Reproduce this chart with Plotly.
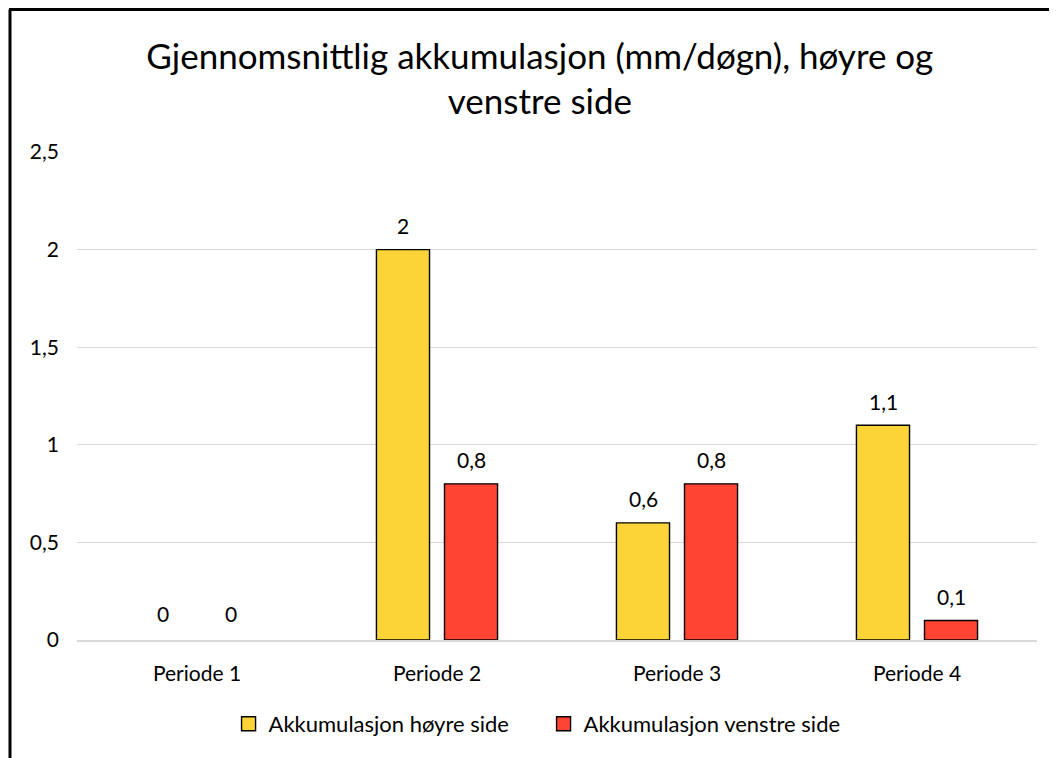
import plotly.graph_objects as go

categories = ["Periode 1", "Periode 2", "Periode 3", "Periode 4"]
hoyre = [0, 2, 0.6, 1.1]
venstre = [0, 0.8, 0.8, 0.1]
series_names = ["Akkumulasjon høyre side", "Akkumulasjon venstre side"]
tick_vals = [0, 0.5, 1, 1.5, 2, 2.5]
tick_text = ["0", "0,5", "1", "1,5", "2", "2,5"]

def fmt(v):
    return ("%g" % v).replace(".", ",")

font = "Lato, Open Sans, sans-serif"
colors = ["#FDD438", "#FF4433"]
fig = go.Figure()
annotations = []
for vals, name, col, shift in [(hoyre, series_names[0], colors[0], -34),
                                (venstre, series_names[1], colors[1], 34)]:
    fig.add_bar(x=categories, y=vals, name=name, showlegend=False,
                marker=dict(color=col,
                            line=dict(color="#000000",
                                      width=[1.4 if v > 0 else 0 for v in vals])))
    for c, v in zip(categories, vals):
        annotations.append(dict(x=c, y=v, xref="x", yref="y", text=fmt(v),
                                showarrow=False, xshift=shift,
                                yshift=24 if v > 0 else 27,
                                yanchor="middle", xanchor="center",
                                font=dict(size=21, family=font, color="#000000")))

# legend entries (square swatches with black outline)
for name, col in zip(series_names, colors):
    fig.add_scatter(x=[None], y=[None], mode="markers", name=name,
                    marker=dict(symbol="square", size=14, color=col,
                                line=dict(color="#000000", width=1.4)))

fig.update_layout(
    width=1049, height=750,
    margin=dict(l=69, r=20, t=144, b=118),
    paper_bgcolor="white", plot_bgcolor="white",
    barmode="group", bargap=0.433, bargroupgap=0.22,
    separators=", ",
    font=dict(family=font, size=21, color="#000000"),
    title=dict(text="Gjennomsnittlig akkumulasjon (mm/døgn), høyre og<br>venstre side",
               x=0.507, xanchor="center", y=0.919, yanchor="middle",
               font=dict(size=35, family=font, color="#000000")),
    legend=dict(orientation="h", x=0.486, xanchor="center", y=-0.172, yanchor="middle",
                font=dict(size=22, family=font), traceorder="normal",
                itemwidth=30, entrywidth=270, entrywidthmode="pixels"),
    xaxis=dict(showgrid=False, showline=True, linecolor="#d9d9d9", linewidth=1.5,
               ticks="", tickfont=dict(size=21), ticklabelstandoff=14),
    yaxis=dict(range=[0, 2.5], tickvals=tick_vals, ticktext=tick_text,
               showgrid=True, gridcolor="#d9d9d9", gridwidth=1, zeroline=False,
               showline=False, ticks="", tickfont=dict(size=21), ticklabelstandoff=17),
    annotations=annotations,
    shapes=[
        dict(type="line", xref="paper", yref="paper", x0=-0.0698, x1=-0.0698, y0=1.292, y1=-0.3,
             line=dict(color="black", width=3)),
        dict(type="line", xref="paper", yref="paper", x0=-0.0708, x1=1.03, y0=1.292, y1=1.292,
             line=dict(color="black", width=3)),
    ],
)
fig.write_html("out.html")
